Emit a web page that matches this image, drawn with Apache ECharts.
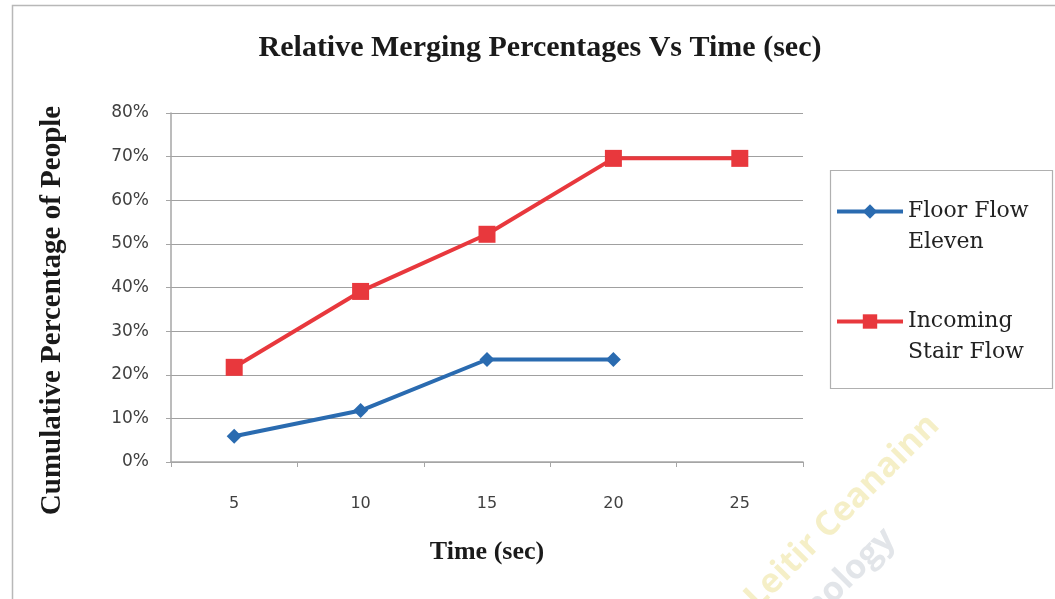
<!DOCTYPE html>
<html>
<head>
<meta charset="utf-8">
<script src="https://cdn.jsdelivr.net/npm/echarts@6/dist/echarts.min.js"></script>
<style>
  html, body { margin: 0; padding: 0; background: #ffffff; }
  #chart { width: 1055px; height: 599px; }
</style>
</head>
<body>
<div id="chart"></div>
<script>
// Time steps (seconds) on the category axis
const timeLabels = ['5', '10', '15', '20', '25'];
// Cumulative share of people merged at each time step
const floorFlowEleven = [0.059, 0.118, 0.235, 0.235, null];
const incomingStairFlow = [0.217, 0.391, 0.522, 0.696, 0.696];
// Percentage axis
const yMin = 0, yMax = 0.8, yStep = 0.1;

const serif = '"Liberation Serif", "DejaVu Serif", serif';
const slab = '"DejaVu Serif", serif';
const sans = '"DejaVu Sans", "Open Sans", sans-serif';

const chart = echarts.init(document.getElementById('chart'));

chart.setOption({
  backgroundColor: '#ffffff',
  animation: false,
  title: {
    text: 'Relative Merging Percentages Vs Time (sec)',
    left: 535,
    textAlign: 'center',
    top: 28,
    textStyle: { fontFamily: serif, fontWeight: 'bold', fontSize: 30, color: '#1a1a1a' }
  },
  grid: { left: 171, right: 252, top: 113, bottom: 137 },
  legend: {
    orient: 'vertical',
    left: 835,
    top: 165,
    padding: 0,
    itemWidth: 66,
    itemHeight: 18,
    itemGap: 17,
    // leading blank line keeps the icon level with the first text line
    formatter: function (name) {
      return name === 'Floor Flow Eleven' ? '\nFloor Flow\nEleven' : '\nIncoming\nStair Flow';
    },
    lineStyle: { width: 4 },
    textStyle: { fontFamily: slab, fontSize: 22, color: '#222222', lineHeight: 31 },
    data: ['Floor Flow Eleven', 'Incoming Stair Flow']
  },
  xAxis: {
    type: 'category',
    data: timeLabels,
    boundaryGap: true,
    name: 'Time (sec)',
    nameLocation: 'middle',
    nameGap: 77,
    nameTextStyle: { fontFamily: serif, fontWeight: 'bold', fontSize: 26, color: '#1a1a1a' },
    axisLine: { lineStyle: { color: '#a6a6a6', width: 1.5 } },
    axisTick: { show: true, alignWithLabel: false, length: 5, lineStyle: { color: '#a6a6a6' } },
    axisLabel: { margin: 34, fontFamily: sans, fontSize: 16, color: '#404040' },
    splitLine: { show: false }
  },
  yAxis: {
    type: 'value',
    min: yMin,
    max: yMax,
    interval: yStep,
    name: 'Cumulative Percentage of People',
    nameLocation: 'middle',
    nameGap: 104,
    nameTextStyle: {
      fontFamily: serif, fontWeight: 'bold', fontSize: 29, color: '#1a1a1a',
      padding: [0, 46, 0, 0]
    },
    axisLine: { show: true, lineStyle: { color: '#a6a6a6', width: 1.5 } },
    axisTick: { show: true, length: 5, lineStyle: { color: '#a6a6a6' } },
    axisLabel: {
      margin: 22, fontFamily: sans, fontSize: 17, color: '#404040',
      formatter: function (v) { return Math.round(v * 100) + '%'; }
    },
    splitLine: { lineStyle: { color: '#a0a0a0', width: 1.2 } }
  },
  series: [
    {
      name: 'Floor Flow Eleven',
      type: 'line',
      data: floorFlowEleven,
      symbol: 'diamond',
      symbolSize: 15,
      lineStyle: { color: '#2a6bb0', width: 4 },
      itemStyle: { color: '#2a6bb0' },
      z: 3
    },
    {
      name: 'Incoming Stair Flow',
      type: 'line',
      data: incomingStairFlow,
      symbol: 'rect',
      symbolSize: 17,
      lineStyle: { color: '#e8383d', width: 4 },
      itemStyle: { color: '#e8383d' },
      z: 2
    }
  ],
  graphic: [
    // chart frame
    {
      type: 'rect', silent: true, z: -1,
      shape: { x: 12.5, y: 5.5, width: 1100, height: 700 },
      style: { fill: 'none', stroke: '#b8b8b8', lineWidth: 1.5 }
    },
    // legend box
    {
      type: 'rect', silent: true,
      shape: { x: 830.5, y: 170.5, width: 222, height: 218 },
      style: { fill: 'none', stroke: '#b0b0b0', lineWidth: 1.2 }
    },
    // library watermark
    {
      type: 'text', silent: true, z: 100,
      x: 922, y: 408, rotation: Math.PI / 4,
      style: {
        text: 'Leitir Ceanainn', align: 'right', verticalAlign: 'top',
        font: 'bold 34px "Open Sans", sans-serif', fill: 'rgba(225, 205, 80, 0.32)'
      }
    },
    {
      type: 'text', silent: true, z: 100,
      x: 878, y: 522, rotation: Math.PI / 4,
      style: {
        text: 'Technology', align: 'right', verticalAlign: 'top',
        font: 'bold 34px "Open Sans", sans-serif', fill: 'rgba(150, 160, 175, 0.28)'
      }
    }
  ]
});
</script>
</body>
</html>
